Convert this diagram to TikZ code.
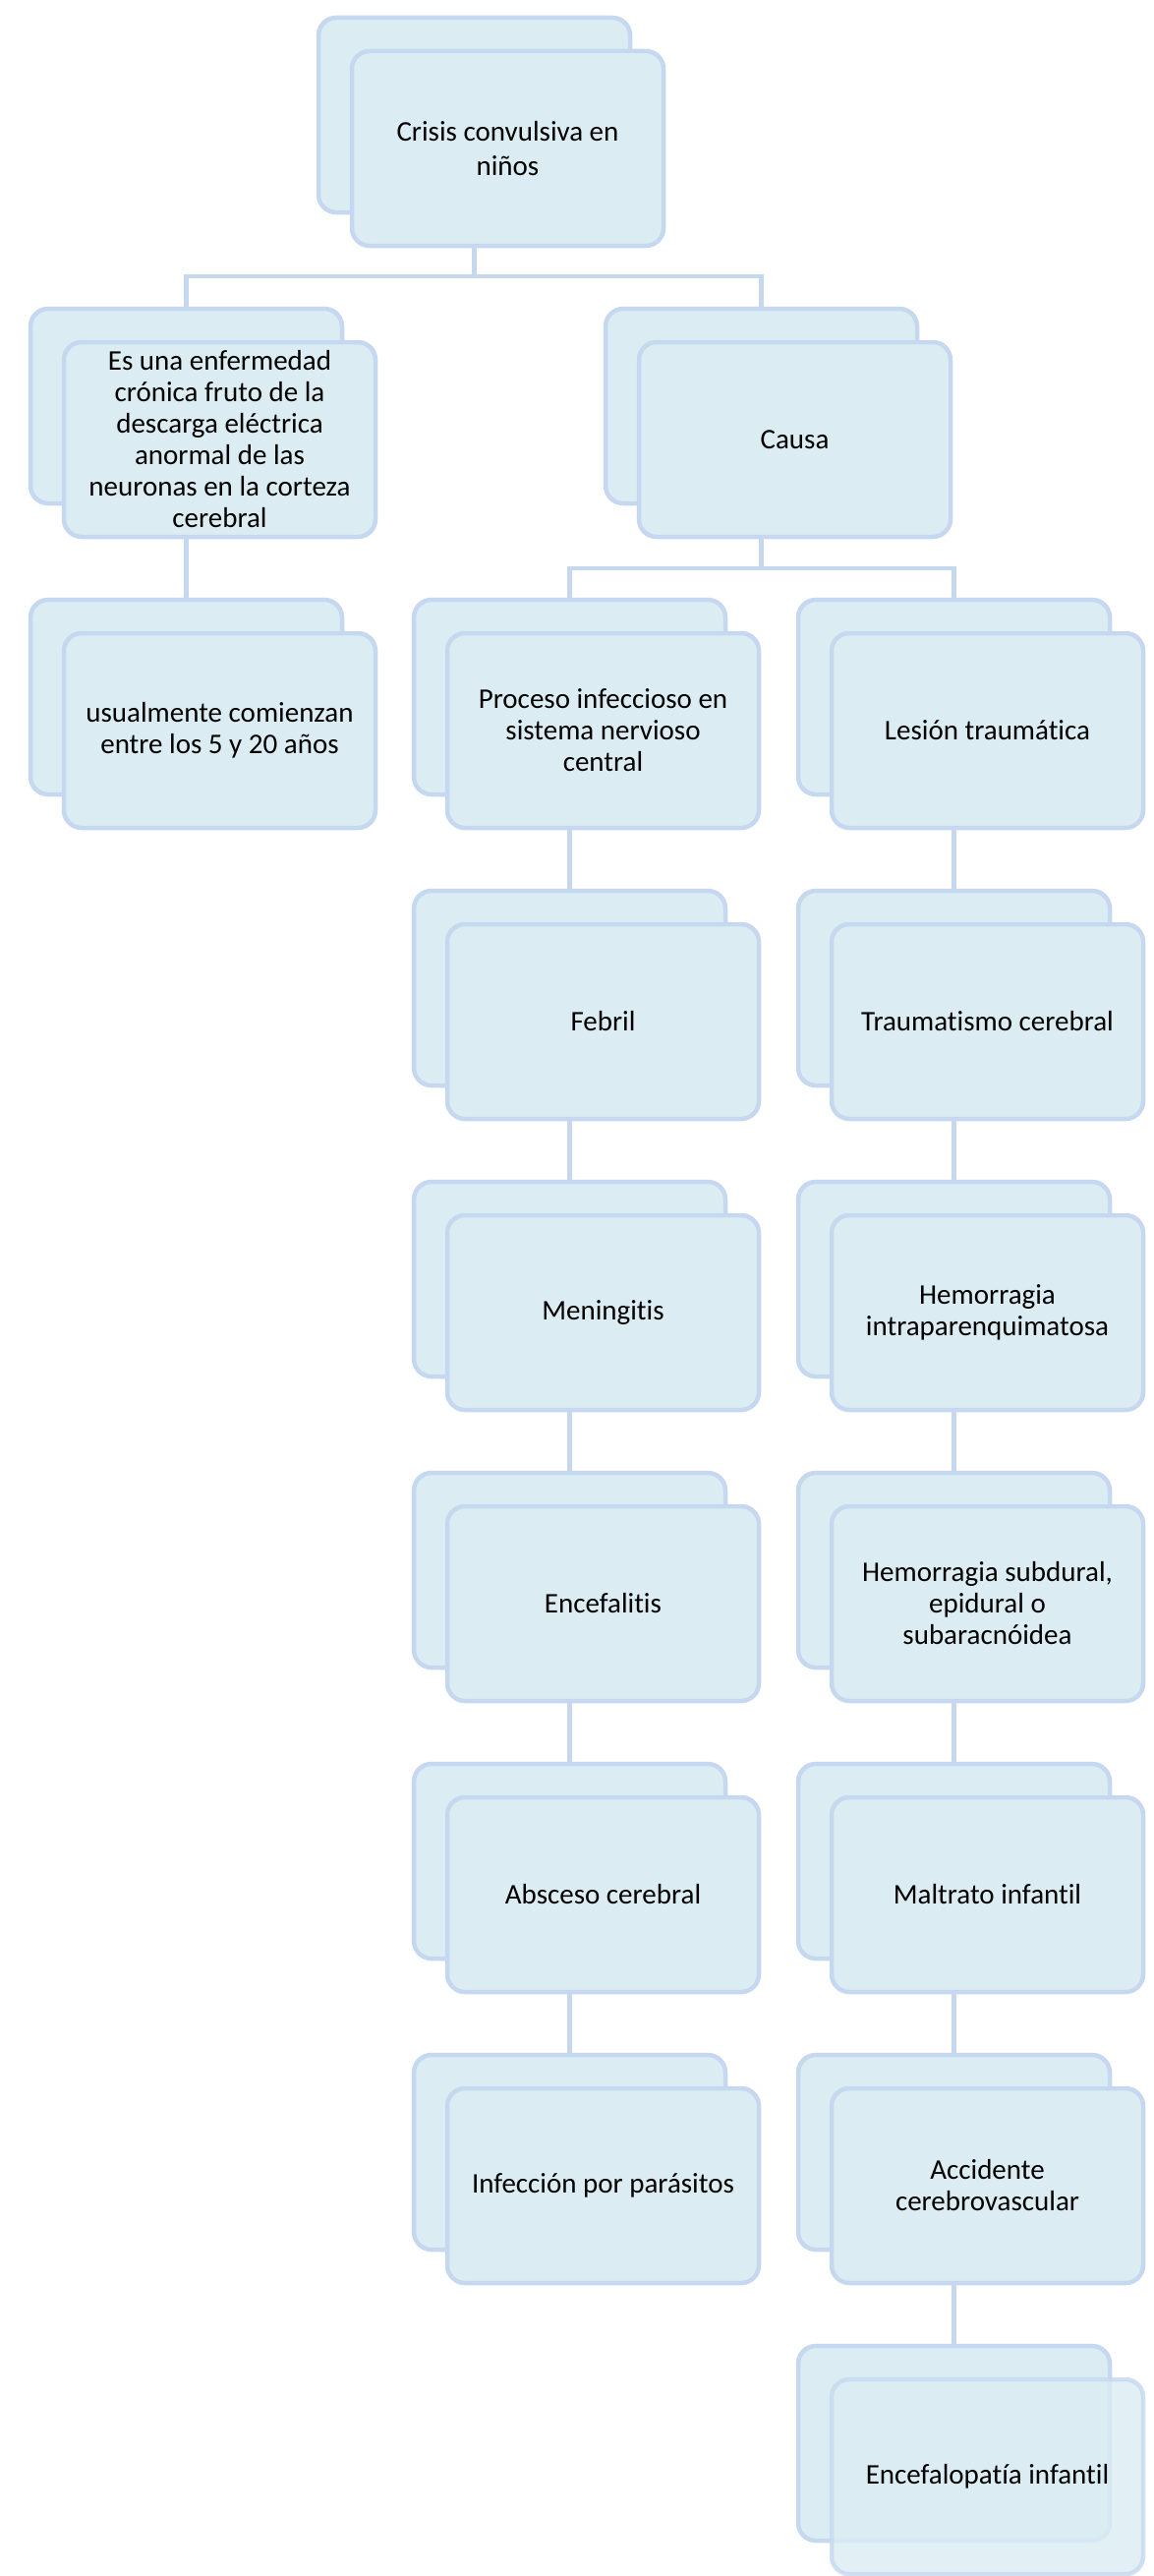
\documentclass[tikz,border=0pt]{standalone}
\usepackage{fontspec}
\setmainfont{Carlito}[Ligatures=NoCommon]
\usetikzlibrary{backgrounds}
\definecolor{boxfill}{HTML}{DBEDF3}
\definecolor{boxline}{HTML}{C6D8EF}
\newcommand\cardpair[5][]{%
  \node[card] (#2b) at (#3-34,#4-34) {};
  \node[txt,#1] (#2) at (#3,#4) {#5};}
\begin{document}
\begin{tikzpicture}[x=1pt,y=-1pt,
  card/.style={draw=boxline, fill=boxfill, line width=4.5pt, rounded corners=18pt,
    minimum width=317pt, minimum height=198pt, inner sep=0pt},
  txt/.style={card, align=center, font=\fontsize{29}{32}\selectfont, text=black},
  toptxt/.style={font=\fontsize{29}{35.4}\selectfont},
  conn/.style={draw=boxline, line width=4.5pt}]
\useasboundingbox (0,0) rectangle (1174,2620);
% row 0
\cardpair[toptxt]{top}{516.5}{151}{Crisis convulsiva en\\niños}
% row 1
\cardpair{A1}{223.5}{447}{Es una enfermedad\\crónica fruto de la\\descarga eléctrica\\anormal de las\\neuronas en la corteza\\cerebral}
\cardpair{B1}{808.5}{447}{Causa}
% row 2
\cardpair{A2}{223.5}{743}{usualmente comienzan\\entre los 5 y 20 años}
\cardpair{C2}{613.5}{743}{Proceso infeccioso en\\sistema nervioso\\central}
\cardpair{D2}{1004.5}{743}{Lesión traumática}
% column C
\cardpair{C3}{613.5}{1039}{Febril}
\cardpair{C4}{613.5}{1335}{Meningitis}
\cardpair{C5}{613.5}{1631}{Encefalitis}
\cardpair{C6}{613.5}{1927}{Absceso cerebral}
\cardpair{C7}{613.5}{2223}{Infección por parásitos}
% column D
\cardpair{D3}{1004.5}{1039}{Traumatismo cerebral}
\cardpair{D4}{1004.5}{1335}{Hemorragia\\intraparenquimatosa}
\cardpair{D5}{1004.5}{1631}{Hemorragia subdural,\\epidural o\\subaracnóidea}
\cardpair{D6}{1004.5}{1927}{Maltrato infantil}
\cardpair{D7}{1004.5}{2223}{Accidente\\cerebrovascular}
\cardpair[fill opacity=0.8,draw opacity=0.8,text opacity=1]{D8}{1004.5}{2519}{Encefalopatía infantil}
\begin{scope}[on background layer]
  \fill[white] (0,0) rectangle (1174,2620);
  \coordinate (h1) at (0,281);
  \coordinate (h2) at (0,578);
  \draw[conn] (topb.south) -- (topb.south |- h1) -| (A1b.north);
  \draw[conn] (topb.south |- h1) -| (B1b.north);
  \draw[conn] (A1b.south) -- (A2b.north);
  \draw[conn] (B1b.south) -- (B1b.south |- h2) -| (C2b.north);
  \draw[conn] (B1b.south |- h2) -| (D2b.north);
  \draw[conn] (C2b.south) -- (C3b.north);
  \draw[conn] (C3b.south) -- (C4b.north);
  \draw[conn] (C4b.south) -- (C5b.north);
  \draw[conn] (C5b.south) -- (C6b.north);
  \draw[conn] (C6b.south) -- (C7b.north);
  \draw[conn] (D2b.south) -- (D3b.north);
  \draw[conn] (D3b.south) -- (D4b.north);
  \draw[conn] (D4b.south) -- (D5b.north);
  \draw[conn] (D5b.south) -- (D6b.north);
  \draw[conn] (D6b.south) -- (D7b.north);
  \draw[conn] (D7b.south) -- (D8b.north);
\end{scope}
\end{tikzpicture}
\end{document}
